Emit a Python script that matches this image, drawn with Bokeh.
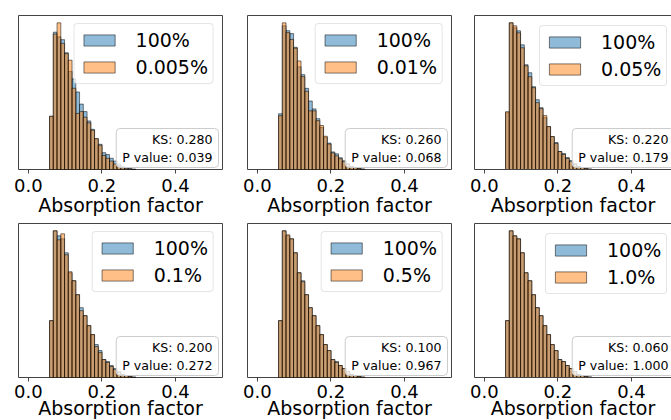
import numpy as np
from bokeh.plotting import figure
from bokeh.layouts import row, column
from bokeh.models import (ColumnDataSource, Legend, LegendItem, Label, FixedTicker,
                          PrintfTickFormatter, Range1d, LinearAxis)
from bokeh.embed import file_html
from bokeh.resources import INLINE

# ---- data (histogram heights, relative density units) ----
bin_start = 0.0575
bin_width = 0.0102

full_100 = [57, 147, 142, 139, 125, 105, 97, 83, 70, 62, 52, 43, 33, 27, 18, 16, 12, 9, 6, 3, 2, 1, 0.5]

sub_labels = ["0.005%", "0.01%", "0.05%", "0.1%", "0.5%", "1.0%"]
sub_0005 = [57, 145, 157, 135, 124, 117, 87, 60, 62, 56, 50, 42, 33, 26, 15, 12, 9, 6, 4, 2, 1, 0.5, 0]
sub_001 = [55, 150, 140, 133, 124, 111, 95, 80, 60, 60, 50, 45, 34, 26, 17, 14, 11, 8, 5, 3, 2, 1, 0.3]
sub_005 = [58, 147, 144, 137, 122, 104, 93, 82, 67, 61, 54, 43, 33, 26, 18, 15, 11, 8, 5, 3, 2, 1, 0.3]
sub_01 = [57, 147, 138, 144, 123, 106, 97, 83, 67, 62, 52, 43, 31, 25, 18, 15, 11, 8, 5, 3, 2, 1, 0.3]
sub_05 = [57, 147, 143, 139, 125, 105, 96, 83, 70, 62, 52, 43, 33, 27, 18, 15, 12, 9, 6, 3, 2, 1, 0.4]
sub_10 = [57, 147, 142, 139, 125, 105, 97, 83, 70, 62, 52, 43, 33, 27, 18, 16, 12, 9, 6, 3, 2, 1, 0.5]
sub_series = [sub_0005, sub_001, sub_005, sub_01, sub_05, sub_10]

ks_values = [0.280, 0.260, 0.220, 0.200, 0.100, 0.060]
p_values = [0.039, 0.068, 0.179, 0.272, 0.967, 1.000]
x_ticks = [0.0, 0.2, 0.4]

FONT = "DejaVu Sans"
BLUE = "#1f77b4"
ORANGE = "#ff7f0e"
FRAME = "#444444"

n = len(full_100)
left = [bin_start + i * bin_width for i in range(n)]
right = [l + bin_width for l in left]

# layout geometry: (fig width, border left, border right) per column
cols = [(234, 18, 12), (229, 13, 12), (208, 11, 0)]
# (fig height, border top, border bottom, tick standoff, label standoff) per row
rows_geo = [(221, 15, 52, 5, -1), (208, 2, 52, 3, -4)]
xr_full = (-0.027, 0.528)
px_per_unit = 204 / (xr_full[1] - xr_full[0])
legend_xy_col3 = [(65, 83), (71, 83)]


def make_panel(k):
    r, c = divmod(k, 3)
    fw, bl, br = cols[c]
    fh, bt, bb, st, sl = rows_geo[r]
    frame_w = fw - bl - br
    if c == 2:
        xr = Range1d(xr_full[0], xr_full[0] + frame_w / px_per_unit)
    else:
        xr = Range1d(*xr_full)
    sub = sub_series[k]
    ymax = 1.05 * max(max(full_100), max(sub))
    p = figure(width=fw, height=fh, x_range=xr, y_range=Range1d(0, ymax),
               output_backend="svg", toolbar_location=None,
               min_border_left=bl, min_border_right=br,
               min_border_top=bt, min_border_bottom=bb)
    p.grid.visible = False
    p.background_fill_color = "white"
    p.border_fill_color = "white"

    src_b = ColumnDataSource(dict(left=left, right=right, top=full_100))
    src_o = ColumnDataSource(dict(left=left, right=right, top=sub))
    rb = p.quad(left="left", right="right", top="top", bottom=0, source=src_b,
                fill_color=BLUE, fill_alpha=0.5, line_color="black", line_alpha=0.5, line_width=1)
    ro = p.quad(left="left", right="right", top="top", bottom=0, source=src_o,
                fill_color=ORANGE, fill_alpha=0.5, line_color="black", line_alpha=0.5, line_width=1)

    # x axis
    xa = p.xaxis[0]
    xa.ticker = FixedTicker(ticks=x_ticks)
    xa.formatter = PrintfTickFormatter(format="%.1f")
    xa.minor_tick_line_color = None
    xa.major_tick_in = 0
    xa.major_tick_out = 4
    xa.major_tick_line_color = FRAME
    xa.major_label_text_font = FONT
    xa.major_label_text_font_size = "18px"
    xa.major_label_text_color = "black"
    xa.major_label_standoff = st
    xa.axis_label = "Absorption factor"
    xa.axis_label_text_font = FONT
    xa.axis_label_text_font_size = "19px"
    xa.axis_label_text_font_style = "normal"
    xa.axis_label_text_color = "black"
    xa.axis_label_standoff = sl

    ya = p.yaxis[0]
    if c == 2:
        p.outline_line_color = None
        xa.axis_line_color = FRAME
        ya.ticker = FixedTicker(ticks=[])
        ya.major_label_text_font_size = "0px"
        ya.major_tick_line_color = None
        ya.minor_tick_line_color = None
        ya.axis_line_color = FRAME
        ya.axis_label = None
        top_ax = LinearAxis(ticker=FixedTicker(ticks=[]), major_label_text_font_size="0px",
                            major_tick_line_color=None, minor_tick_line_color=None,
                            axis_line_color=FRAME)
        p.add_layout(top_ax, "above")
    else:
        ya.visible = False
        xa.axis_line_color = None
        p.outline_line_color = FRAME
        p.outline_line_alpha = 1.0

    # legend
    items = [LegendItem(label="100%", renderers=[rb]), LegendItem(label=sub_labels[k], renderers=[ro])]
    if c == 2:
        loc = legend_xy_col3[r]
    else:
        loc = "top_right"
    leg = Legend(items=items, location=loc, margin=8, padding=5, spacing=5,
                 glyph_width=39, glyph_height=14, label_standoff=17,
                 label_text_font=FONT, label_text_font_size="19px", label_text_color="black",
                 border_line_color="#cccccc", border_line_width=1,
                 background_fill_color="white", background_fill_alpha=0.8)
    if "border_radius" in Legend.properties():
        leg.border_radius = 4
    p.add_layout(leg)

    # KS / P value box
    lab = Label(x=frame_w - 4 if c < 2 else 200, y=2, x_units="screen", y_units="screen",
                text="KS: %.3f\nP value: %.3f" % (ks_values[k], p_values[k]),
                text_align="right", text_baseline="bottom",
                text_font=FONT, text_font_size="12.6px", text_color="black",
                border_line_color="#cccccc", border_line_width=1,
                background_fill_color="white", background_fill_alpha=0.8,
                padding=dict(left=6, right=6, top=3, bottom=3))
    if "border_radius" in Label.properties():
        lab.border_radius = 4
    p.add_layout(lab)
    return p


panels = [make_panel(k) for k in range(6)]
layout = column(row(*panels[:3], spacing=0), row(*panels[3:], spacing=0), spacing=0)

open("out.html", "w").write(file_html(layout, INLINE))
